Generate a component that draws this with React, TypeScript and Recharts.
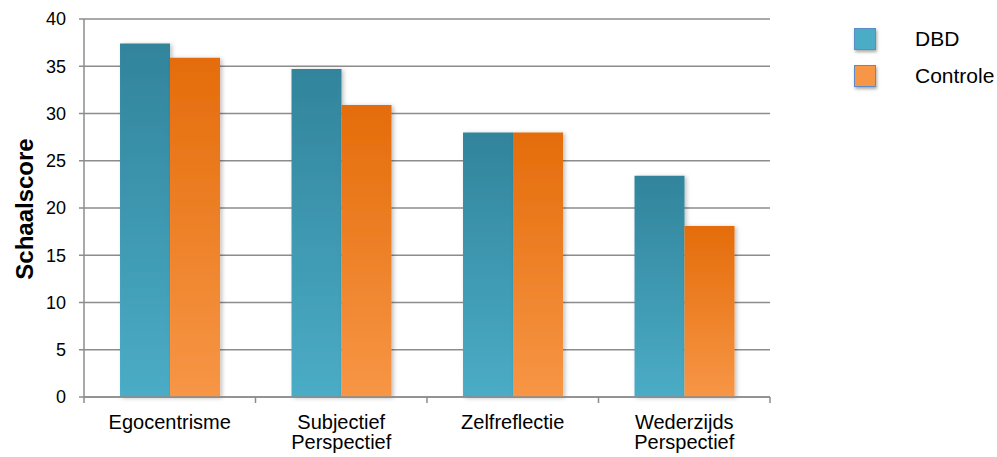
import React from "react";
import { BarChart, Bar, XAxis, YAxis, CartesianGrid } from "recharts";

const categories = ["Egocentrisme", "Subjectief\nPerspectief", "Zelfreflectie", "Wederzijds\nPerspectief"];
const dbd = [37.4, 34.7, 28.0, 23.4];
const controle = [35.9, 30.9, 28.0, 18.1];
const yTicks = [0, 5, 10, 15, 20, 25, 30, 35, 40];

const series = [
  { key: "dbd", name: "DBD", top: "#31849b", bottom: "#4bacc6", swatch: "#4bacc6" },
  { key: "controle", name: "Controle", top: "#e46c0a", bottom: "#f79646", swatch: "#f79646" },
];

const data = categories.map((c, i) => ({ cat: c, dbd: dbd[i], controle: controle[i] }));

const FONT = "'Liberation Sans', Arial, sans-serif";
const PLOT_LEFT = 84;
const PLOT_RIGHT = 770;
const BAND = (PLOT_RIGHT - PLOT_LEFT) / categories.length;

const CategoryTick = (props: any) => {
  const { x, y, payload, index } = props;
  const lines: string[] = String(payload.value).split("\n");
  return (
    <g>
      <line x1={x - BAND / 2} x2={x - BAND / 2} y1={y - 6} y2={y} stroke="#8c8c8c" strokeWidth={1.5} />
      {index === categories.length - 1 && (
        <line x1={x + BAND / 2} x2={x + BAND / 2} y1={y - 6} y2={y} stroke="#8c8c8c" strokeWidth={1.5} />
      )}
      <text x={x} y={y + 26} textAnchor="middle" fontFamily={FONT} fontSize={20} fill="#000">
        {lines.map((l, i) => (
          <tspan key={i} x={x} dy={i === 0 ? 0 : 20}>
            {l}
          </tspan>
        ))}
      </text>
    </g>
  );
};

const YTitle = () => (
  <text
    transform="translate(33,209) rotate(-90)"
    textAnchor="middle"
    fontFamily={FONT}
    fontSize={24}
    fontWeight="bold"
    fill="#000"
  >
    Schaalscore
  </text>
);

export default function App() {
  return (
    <div style={{ position: "absolute", left: 0, top: 0, width: 997, height: 457, background: "#fff" }}>
      <BarChart
        width={997}
        height={457}
        data={data}
        margin={{ top: 19, right: 997 - PLOT_RIGHT, bottom: 0, left: 24 }}
        barCategoryGap="21%"
        barGap={0}
      >
        <defs>
          {series.map((s) => (
            <linearGradient key={s.key} id={`grad-${s.key}`} x1="0" y1="0" x2="0" y2="1">
              <stop offset="0%" stopColor={s.top} />
              <stop offset="100%" stopColor={s.bottom} />
            </linearGradient>
          ))}
          <filter id="barShadow" x="-20%" y="-10%" width="140%" height="120%">
            <feDropShadow dx="2" dy="1" stdDeviation="2" floodColor="#000" floodOpacity="0.25" />
          </filter>
        </defs>
        <CartesianGrid vertical={false} stroke="#8c8c8c" strokeWidth={1.5} />
        <XAxis
          dataKey="cat"
          height={60}
          axisLine={{ stroke: "#8c8c8c", strokeWidth: 1.5 }}
          tickLine={false}
          tickSize={6}
          tickMargin={0}
          interval={0}
          tick={<CategoryTick />}
        />
        <YAxis
          width={60}
          domain={[0, 40]}
          ticks={yTicks}
          interval={0}
          axisLine={{ stroke: "#8c8c8c", strokeWidth: 1.5 }}
          tickLine={{ stroke: "#8c8c8c", strokeWidth: 1.5 }}
          tickSize={5}
          tickMargin={13}
          tick={{ fontFamily: FONT, fontSize: 18, fill: "#000" }}
          label={<YTitle />}
        />
        {series.map((s) => (
          <Bar
            key={s.key}
            dataKey={s.key}
            name={s.name}
            fill={`url(#grad-${s.key})`}
            filter="url(#barShadow)"
            isAnimationActive={false}
          />
        ))}
      </BarChart>
      <div style={{ position: "absolute", left: 854, top: 28, fontFamily: FONT, fontSize: 21 }}>
        {series.map((s, i) => (
          <div key={s.key} style={{ position: "absolute", left: 0, top: i * 37, height: 22, width: 140 }}>
            <div
              style={{
                position: "absolute",
                left: 0,
                top: 0,
                width: 20,
                height: 20,
                background: s.swatch,
                border: "1px solid #5b8cc8",
                boxShadow: "1px 2px 3px rgba(0,0,0,0.35)",
              }}
            />
            <div style={{ position: "absolute", left: 61, top: 0, lineHeight: "21px", color: "#000", whiteSpace: "nowrap" }}>
              {s.name}
            </div>
          </div>
        ))}
      </div>
    </div>
  );
}
